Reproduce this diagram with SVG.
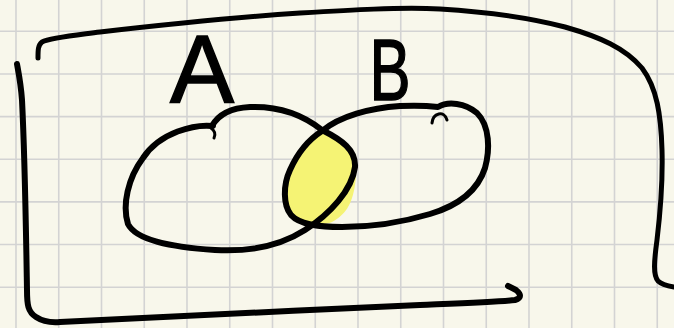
<svg xmlns="http://www.w3.org/2000/svg" width="674" height="328" viewBox="0 0 674 328">
<style>
.grid line{stroke:#d3d3d3;stroke-width:1.6}
.ink{fill:none;stroke:#000;stroke-linecap:round;stroke-linejoin:round}
.lbl{font-family:"Liberation Sans","DejaVu Sans",sans-serif;fill:#000;stroke:#000;stroke-width:1.5}
</style>
<rect width="674" height="328" fill="#f8f7eb"/>
<g class="grid">
<line x1="16" y1="0" x2="16" y2="328"/><line x1="58.75" y1="0" x2="58.75" y2="328"/><line x1="101.5" y1="0" x2="101.5" y2="328"/><line x1="144.25" y1="0" x2="144.25" y2="328"/><line x1="187" y1="0" x2="187" y2="328"/><line x1="229.75" y1="0" x2="229.75" y2="328"/><line x1="272.5" y1="0" x2="272.5" y2="328"/><line x1="315.25" y1="0" x2="315.25" y2="328"/><line x1="358" y1="0" x2="358" y2="328"/><line x1="400.75" y1="0" x2="400.75" y2="328"/><line x1="443.5" y1="0" x2="443.5" y2="328"/><line x1="486.25" y1="0" x2="486.25" y2="328"/><line x1="529" y1="0" x2="529" y2="328"/><line x1="571.75" y1="0" x2="571.75" y2="328"/><line x1="614.5" y1="0" x2="614.5" y2="328"/><line x1="657.25" y1="0" x2="657.25" y2="328"/>
<line x1="0" y1="31.3" x2="674" y2="31.3"/><line x1="0" y1="73.95" x2="674" y2="73.95"/><line x1="0" y1="116.6" x2="674" y2="116.6"/><line x1="0" y1="159.25" x2="674" y2="159.25"/><line x1="0" y1="201.9" x2="674" y2="201.9"/><line x1="0" y1="244.55" x2="674" y2="244.55"/><line x1="0" y1="287.2" x2="674" y2="287.2"/>
</g>
<g id="universe">
<path class="ink" stroke-width="5" d="M38,58 C38,50 38,45 42,42 C50,38 70,36 100,32 C170,24 240,17 300,13 C350,10 400,7 440,9 C490,12 530,18 565,27 C600,37 625,48 642,68 C657,88 661,115 662,150 C663,185 660,215 657,240 C654,262 653,275 658,281 C662,285 668,286 674,287"/>
<path class="ink" stroke-width="6" d="M17,64 C19,75 21,85 22,100 C25,160 26,230 27,290 C27,305 28,312 36,317 C42,321 48,323 60,322 C150,318 300,310 420,305 C470,303 500,302 515,300 C522,298 521,294 516,290 L508,286"/>
</g>
<g id="intersection">
<path fill="#f5f374" d="M322,133 C345,140 360,160 355,185 C352,205 345,215 332,222 C320,227 300,223 290,212 C283,198 285,180 292,165 C300,150 312,138 322,133 Z"/>
</g>
<g id="setA">
<path class="ink" stroke-width="6" d="M213,126 C195,124 160,132 143,158 C128,178 122,205 128,224 C136,240 170,247 215,250 C250,252 280,246 305,230 C330,214 352,190 355,167 C356,150 342,140 322,130 C302,114 278,106 250,107 C230,108 218,115 212,126"/>
<path class="ink" stroke-width="3" d="M211,128 C215,131 216,134 214,138"/>
<text class="lbl" x="202" y="102" font-size="96" text-anchor="middle">A</text>
</g>
<g id="setB">
<path class="ink" stroke-width="6" d="M322,131 C340,116 370,108 400,106 C420,105 430,106 438,107 C448,101 465,103 477,113 C490,126 490,150 485,168 C478,190 460,205 430,214 C400,223 370,227 342,227 C320,227 300,225 291,215 C283,205 283,185 290,170 C298,152 308,140 322,131"/>
<path class="ink" stroke-width="3" d="M432,123 C433,113 444,110 447,120"/>
<text class="lbl" x="390" y="100" font-size="88" text-anchor="middle" transform="translate(390 0) scale(0.7 1) translate(-390 0)">B</text>
</g>
</svg>
